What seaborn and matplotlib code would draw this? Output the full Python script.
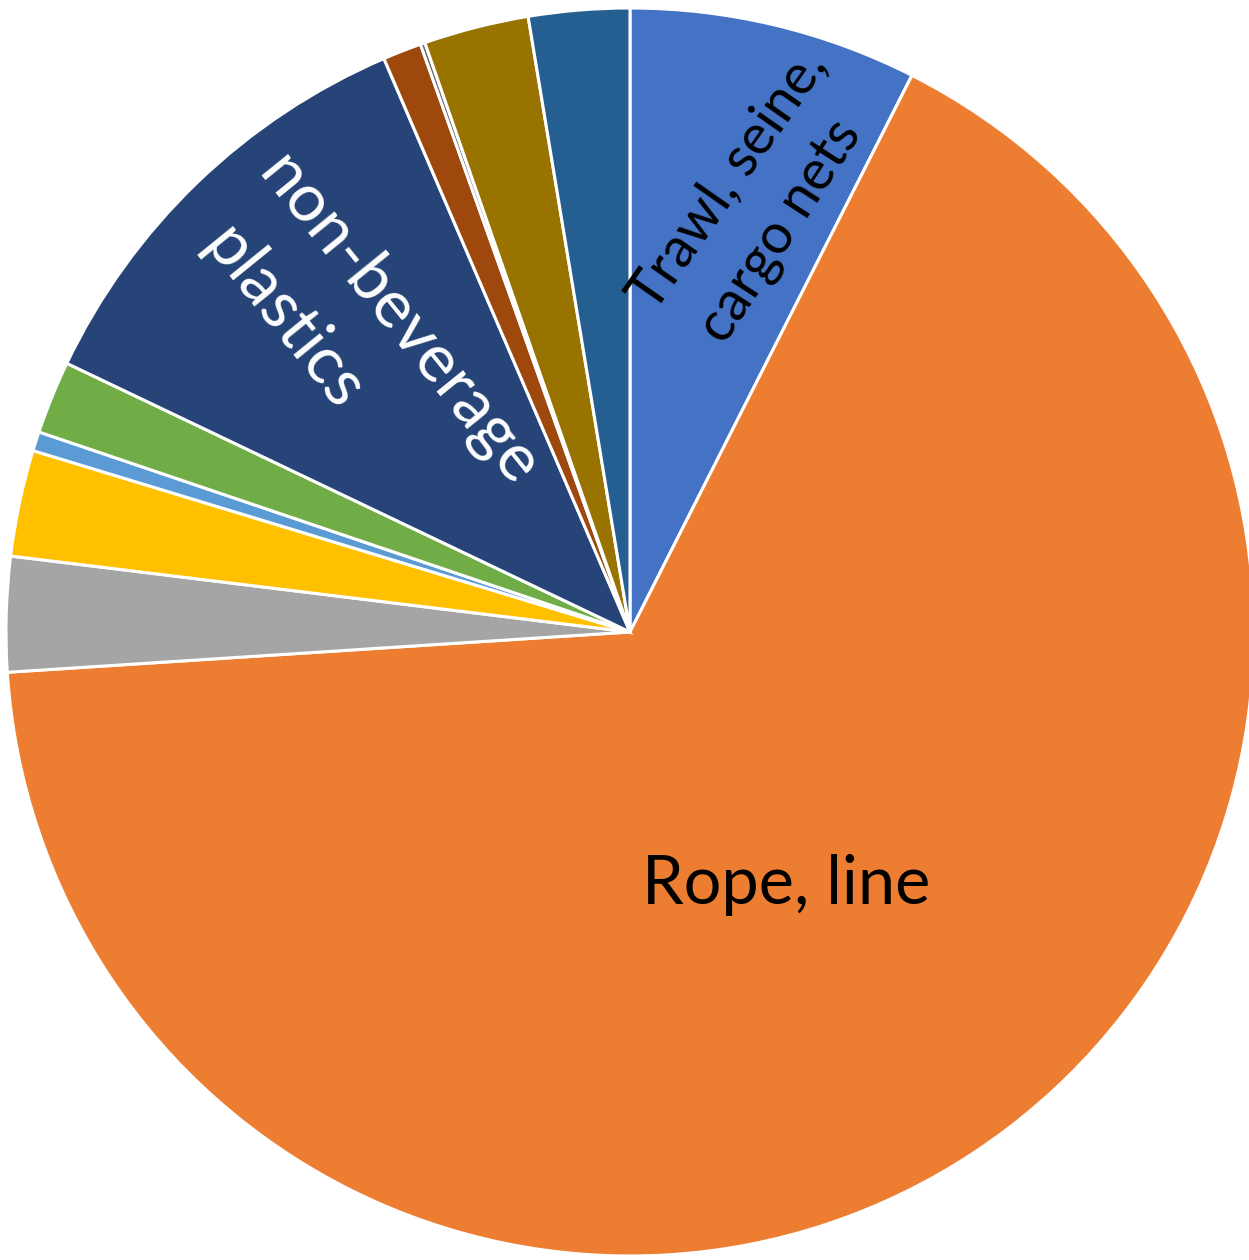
import matplotlib
matplotlib.use("Agg")
import matplotlib.pyplot as plt
import seaborn as sns

sns.set_theme(style="white")
plt.rcParams['font.family'] = ['Lato', 'DejaVu Sans']

categories = ["Trawl, seine, cargo nets", "Rope, line", "Other 1", "Other 2", "Other 3",
              "Other 4", "non-beverage plastics", "Other 5", "Other 6", "Other 7", "Other 8"]
values = [7.46, 66.49, 2.97, 2.75, 0.5, 1.89, 11.46, 1.0, 0.12, 2.72, 2.61]
colors = ["#4472C4", "#ED7D31", "#A5A5A5", "#FFC000", "#5B9BD5", "#70AD47",
          "#264478", "#9E480E", "#636363", "#997300", "#255E91"]
palette = sns.color_palette(colors)

W, H = 1249, 1260
fig = plt.figure(figsize=(W / 100, H / 100), dpi=100)
ax = fig.add_axes([0, 0, 1, 1])
cx, cy, R = 630, 632, 624

ax.pie(values, colors=palette, startangle=90, counterclock=False, radius=1,
       wedgeprops=dict(edgecolor="white", linewidth=2.2))
ax.set_xlim(-cx / R, (W - cx) / R)
ax.set_ylim(-(H - cy) / R, cy / R)
ax.set_aspect("auto")
ax.axis("off")

def px(x, y):
    return ((x - cx) / R, (cy - y) / R)

fw = "normal"
ax.text(*px(786, 885), "Rope, line", fontsize=48, color="black", ha="center", va="center",
        fontweight=fw)
ax.text(*px(728, 180), "Trawl, seine,", fontsize=40, color="black", ha="center", va="center",
        rotation=55, rotation_mode="anchor", fontweight=fw)
ax.text(*px(782, 232), "cargo nets", fontsize=40, color="black", ha="center", va="center",
        rotation=57, rotation_mode="anchor", fontweight=fw)
ax.text(*px(398, 320), "non-beverage", fontsize=48, color="white", ha="center", va="center",
        rotation=-51, rotation_mode="anchor", fontweight=fw)
ax.text(*px(283, 318), "plastics", fontsize=48, color="white", ha="center", va="center",
        rotation=-51, rotation_mode="anchor", fontweight=fw)

fig.savefig("out.png", dpi=100, facecolor="white")
